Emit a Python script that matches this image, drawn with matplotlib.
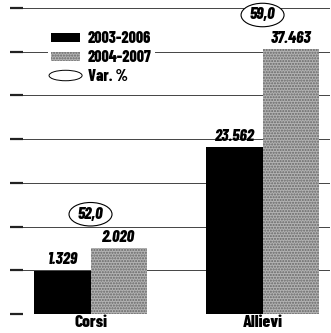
import matplotlib
matplotlib.use("Agg")
import matplotlib.pyplot as plt
from matplotlib.patches import Rectangle, Ellipse
from matplotlib.legend_handler import HandlerPatch
from matplotlib.transforms import ScaledTranslation

# Data
categories = ["Corsi", "Allievi"]
series_names = ["2003-2006", "2004-2007"]
values_2003_2006 = [1329, 23562]
values_2004_2007 = [2020, 37463]
var_pct = [52.0, 59.0]
legend_var_label = "Var. %"

FONT = ["Barlow Condensed", "DejaVu Sans"]
DARK = "#000000"
GREY = "#b3b3b3"
GRID = "#444444"
HEAVY = 800


def it_num(v):
    return f"{v:,}".replace(",", ".")


def it_pct(v):
    return f"{v:.1f}".replace(".", ",")


fig = plt.figure(figsize=(3.31, 3.33), dpi=100)
W, H = 331, 333
left, right, top, base = 10, 330, 8, 314
ax = fig.add_axes([left / W, (H - base) / H, (right - left) / W, (base - top) / H])

x = list(range(len(categories)))
bw = 0.326
ax.set_xlim(-0.468, 1.392)
ax.set_ylim(0, 43260)

# Allievi on the main scale, Corsi on its own scale
axc = ax.twinx()
axc.set_ylim(0, 9400)

axes_for = [axc, ax]
for i, cat in enumerate(categories):
    a = axes_for[i]
    b1 = a.bar(x[i] - bw / 2, values_2003_2006[i], bw, color=DARK, lw=0, zorder=3)
    b2 = a.bar(x[i] + bw / 2, values_2004_2007[i], bw, color=GREY, lw=0,
               hatch="......", edgecolor="#666666", zorder=3)
    for bar, v in ((b1[0], values_2003_2006[i]), (b2[0], values_2004_2007[i])):
        a.annotate(it_num(v), (bar.get_x() + bar.get_width() / 2, v),
                   xytext=(0, 2.5), textcoords="offset points", ha="center",
                   va="bottom", fontsize=12, fontweight=HEAVY, style="italic",
                   family=FONT, zorder=5)
    # percentage change inside an oval above the pair of bars
    peak = max(values_2003_2006[i], values_2004_2007[i])
    anchor = fig.dpi_scale_trans + ScaledTranslation(x[i], peak, a.transData)
    a.add_patch(Ellipse((0, 0.34), 0.43, 0.235, transform=anchor, fc="white",
                        ec="black", lw=0.8, zorder=6, clip_on=False))
    a.annotate(it_pct(var_pct[i]), (x[i], peak), xytext=(0, 24.5),
               textcoords="offset points", ha="center", va="center",
               fontsize=12, fontweight=HEAVY, style="italic", family=FONT, zorder=7)

# Horizontal rules
ticks = [43260 * k / 7 for k in range(8)]
ax.set_yticks(ticks)
ax.yaxis.grid(True, color=GRID, lw=0.7, zorder=0)
ax.tick_params(axis="y", direction="in", length=9, width=1.6, color="#222222",
               labelleft=False)
axc.set_yticks([])
ax.set_xticks(x)
ax.set_xticklabels(categories, family=FONT, fontweight=HEAVY, fontsize=12.5)
ax.tick_params(axis="x", length=0, pad=1)
for a in (ax, axc):
    for s in a.spines.values():
        s.set_visible(False)
ax.set_axisbelow(True)


class HandlerEllipse(HandlerPatch):
    def create_artists(self, legend, orig_handle, xdescent, ydescent, width,
                       height, fontsize, trans):
        e = Ellipse((width / 2 - xdescent, height / 2 - ydescent), width * 1.15,
                    height * 1.15, fc="white", ec="black", lw=0.7)
        e.set_transform(trans)
        return [e]


h1 = Rectangle((0, 0), 1, 1, fc=DARK, lw=0)
h2 = Rectangle((0, 0), 1, 1, fc=GREY, hatch="......", ec="#666666", lw=0)
h3 = Ellipse((0, 0), 1, 1)
leg = ax.legend([h1, h2, h3], series_names + [legend_var_label],
                handler_map={Ellipse: HandlerEllipse()},
                loc="upper left", bbox_to_anchor=(38 / 320, 1 - 20 / 306),
                frameon=True, fancybox=False, edgecolor="none", framealpha=1,
                prop=dict(family=FONT, weight=HEAVY, size=11.5),
                handlelength=1.8, handleheight=0.5, handletextpad=0.5,
                labelspacing=0.25, borderpad=0.2, borderaxespad=0)
leg.set_zorder(10)

fig.savefig("out.png", dpi=100)
